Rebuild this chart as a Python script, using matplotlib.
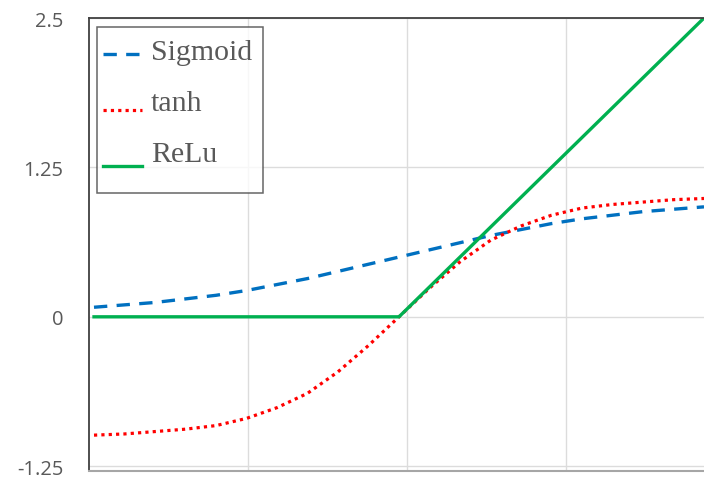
import matplotlib
matplotlib.use('Agg')
import matplotlib.pyplot as plt
from matplotlib.path import Path
from matplotlib.transforms import Affine2D

# values
x_vals = [-2.5, -2.25, -2.0, -1.75, -1.5, -1.25, -1.0, -0.75, -0.5, -0.25, 0.0,
          0.25, 0.5, 0.75, 1.0, 1.25, 1.5, 1.75, 2.0, 2.25, 2.5]
sigmoid_vals = [0.08, 0.10, 0.12, 0.15, 0.18, 0.22, 0.27, 0.32, 0.38, 0.44, 0.50,
                0.56, 0.62, 0.68, 0.73, 0.78, 0.82, 0.85, 0.88, 0.90, 0.92]
tanh_vals = [-0.99, -0.98, -0.96, -0.94, -0.91, -0.85, -0.76, -0.64, -0.46, -0.24, 0.00,
             0.24, 0.46, 0.64, 0.76, 0.85, 0.91, 0.94, 0.96, 0.98, 0.99]
relu_vals = [0, 0, 0, 0, 0, 0, 0, 0, 0, 0, 0,
             0.25, 0.5, 0.75, 1.0, 1.25, 1.5, 1.75, 2.0, 2.25, 2.5]
y_ticks = [-1.25, 0, 1.25, 2.5]
y_tick_labels = ['-1.25', '0', '1.25', '2.5']
series_names = ['Sigmoid', 'tanh', 'ReLu']

W, H = 704, 481
fig = plt.figure(figsize=(W / 100, H / 100), dpi=100)
ax = fig.add_axes([89 / W, (H - 472) / H, (704 - 89) / W, (472 - 19) / H])

ax.plot(x_vals, sigmoid_vals, color='#0070C0', lw=2.4, dashes=(4, 2.8), label=series_names[0])
ax.plot(x_vals, tanh_vals, color='#FF0000', lw=2.3, dashes=(1, 1.3), label=series_names[1])
ax.plot(x_vals, relu_vals, color='#00B050', lw=2.4, label=series_names[2])

ax.set_xlim(-2.541, 2.5)
ax.set_ylim(-1.29, 2.5)

ax.set_yticks(y_ticks)
ax.set_yticklabels(y_tick_labels, fontfamily='Open Sans', fontsize=14.5, color='#595959')
ax.set_xticks([-1.238, 0.066, 1.369])
ax.set_xticklabels([])
ax.tick_params(axis='both', length=0)
ax.tick_params(axis='y', pad=18.5)
ax.grid(True, color='#DCDCDC', lw=1)
ax.set_axisbelow(True)

for side in ['left', 'top']:
    ax.spines[side].set_color('#404040')
    ax.spines[side].set_linewidth(1.3)
ax.spines['bottom'].set_color('#A6A6A6')
ax.spines['bottom'].set_linewidth(1.5)
ax.spines['right'].set_visible(False)

# legend frame: extra room above/below/right beyond what borderpad gives (pixels)
PAD_T, PAD_B, PAD_R = 11, 4, 5

def frame_box(x0, y0, width, height, mutation_size):
    x1 = x0 + width + PAD_R
    y1 = y0 + height + PAD_T
    y0 = y0 - PAD_B
    return Path([(x0, y0), (x1, y0), (x1, y1), (x0, y1), (x0, y0)], closed=True)

leg = ax.legend(loc='upper left', bbox_to_anchor=(97 / W, 1 - (28 + PAD_T) / H),
                bbox_transform=fig.transFigure,
                prop={'family': 'Liberation Serif', 'size': 21.5}, frameon=True, fancybox=False,
                edgecolor='#404040', handlelength=1.31, handletextpad=0.3, labelspacing=0.97,
                borderpad=0.2, borderaxespad=0)
leg.legendPatch.set_boxstyle(frame_box)
leg.get_frame().set_linewidth(1.1)
text_shift = [6, 11, 16]
for t, dy in zip(leg.get_texts(), text_shift):
    t.set_color('#595959')
    t.set_transform(t.get_transform() + Affine2D().translate(0, dy))

fig.savefig('out.png', dpi=100)
